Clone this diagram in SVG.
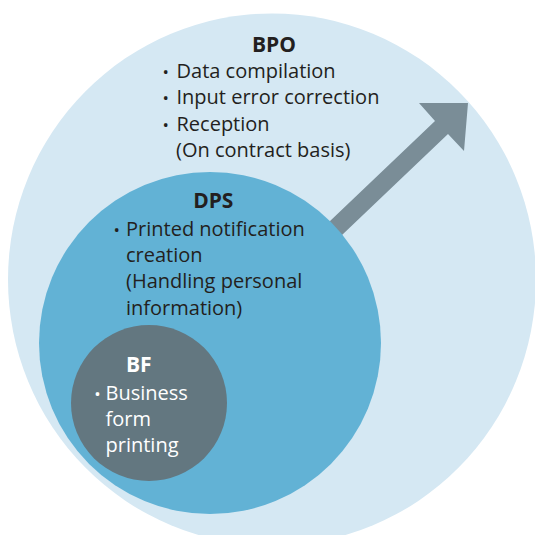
<svg xmlns="http://www.w3.org/2000/svg" width="535" height="535" viewBox="0 0 535 535">
  <style>
    .t { font-family: "Open Sans", "Noto Sans", "Liberation Sans", sans-serif; font-size: 20px; fill: #231f20; }
    .h { font-weight: bold; font-size: 21px; text-anchor: middle; }
    .b { font-size: 17px; }
    .w { fill: #ffffff; }
  </style>
  <rect width="535" height="535" fill="#ffffff"/>

  <g id="bpo">
    <ellipse cx="272" cy="279.5" rx="264" ry="266" fill="#d5e8f3"/>
  </g>

  <!-- growth arrow pointing out from DPS towards BPO -->
  <g id="connectors">
    <polygon points="308,242 435,121 419,103 468,103 464,151 448,134 321,255" fill="#7a8d97"/>
  </g>

  <g id="dps">
    <circle cx="210" cy="343" r="171" fill="#62b2d5"/>
  </g>

  <g id="bf">
    <circle cx="149" cy="403" r="78" fill="#637780"/>
  </g>

  <g id="bpo-text">
    <text class="t h" x="274" y="51.7">BPO</text>
    <text class="t" y="77.7"><tspan class="b" x="162.4">•</tspan><tspan x="176.5">Data compilation</tspan></text>
    <text class="t" y="104.2"><tspan class="b" x="162.4">•</tspan><tspan x="176.5">Input error correction</tspan></text>
    <text class="t" y="130.7"><tspan class="b" x="162.4">•</tspan><tspan x="176.5">Reception</tspan></text>
    <text class="t" x="176" y="157.2">(On contract basis)</text>
  </g>

  <g id="dps-text">
    <text class="t h" x="213.3" y="208.3">DPS</text>
    <text class="t" y="235.5"><tspan class="b" x="113.4">•</tspan><tspan x="126">Printed notification</tspan></text>
    <text class="t" x="126" y="261.8">creation</text>
    <text class="t" x="126" y="288.3">(Handling personal</text>
    <text class="t" x="126" y="315">information)</text>
  </g>

  <g id="bf-text">
    <text class="t h w" x="138.8" y="371.7">BF</text>
    <text class="t w" y="399.5"><tspan class="b" x="94.2">•</tspan><tspan x="105.5">Business</tspan></text>
    <text class="t w" x="105.5" y="425.5">form</text>
    <text class="t w" x="105.5" y="451.5">printing</text>
  </g>
</svg>
